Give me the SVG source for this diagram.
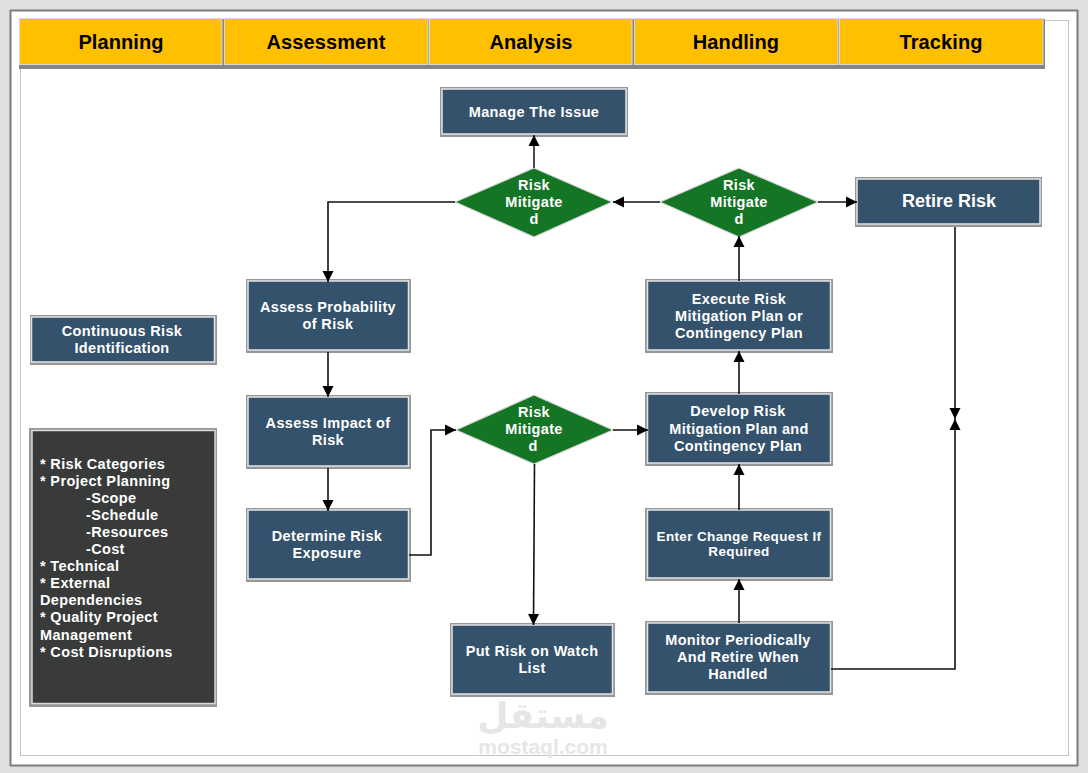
<svg xmlns="http://www.w3.org/2000/svg" width="1088" height="773" viewBox="0 0 1088 773">
<style>
text{font-family:"Liberation Sans",Arial,sans-serif;font-weight:700;text-anchor:middle}
.h{font-size:20px;fill:#000;letter-spacing:.1px}
.hd{fill:#ffc000;stroke:#d8d8d8;stroke-width:1}
.hs{fill:#858585}
.n{fill:#34526b;stroke:#e4e4e4;stroke-width:1.500}
.s{fill:#969696}
.t{font-size:14.500px;fill:#fff;letter-spacing:.35px}
.d{fill:#147524;stroke:#d8d8d8;stroke-width:1.200}
.c{fill:none;stroke:#111;stroke-width:1.600}
.c2{fill:none;stroke:#4a4a52;stroke-width:2}
.l{text-anchor:start}
</style>
<defs>
<marker id="a" markerUnits="userSpaceOnUse" markerWidth="12" markerHeight="12" refX="11" refY="6" orient="auto"><path d="M0 .5L11 6L0 11.500Z" fill="#000"/></marker>
</defs>
<rect width="1088" height="773" fill="#dfdfdd"/>
<rect x="10.500" y="10.500" width="1067" height="755" fill="#fff" stroke="#7d7d7d" stroke-width="2"/>
<rect x="20.500" y="20.500" width="1048" height="735" fill="none" stroke="#c4c4c4" stroke-width="1"/>
<g id="watermark">
<text x="543" y="728" style="font-family:'DejaVu Sans',sans-serif;font-size:36px;fill:#e6e6e6">مستقل</text>
<text x="543" y="754" style="font-size:21px;fill:#e6e6e6;font-weight:700">mostaql.com</text>
</g>
<g id="header">
<g id="h-planning"><rect class="hs" x="19" y="19" width="206" height="50"/><rect class="hd" x="19.500" y="18.500" width="202.500" height="46"/><text class="h" x="121" y="49">Planning</text></g>
<g id="h-assessment"><rect class="hs" x="224" y="19" width="206" height="50"/><rect class="hd" x="224.500" y="18.500" width="203.500" height="46"/><text class="h" x="326" y="49">Assessment</text></g>
<g id="h-analysis"><rect class="hs" x="429" y="19" width="206" height="50"/><rect class="hd" x="429.500" y="18.500" width="202.500" height="46"/><text class="h" x="531" y="49">Analysis</text></g>
<g id="h-handling"><rect class="hs" x="634" y="19" width="206" height="50"/><rect class="hd" x="634.500" y="18.500" width="203.500" height="46"/><text class="h" x="736" y="49">Handling</text></g>
<g id="h-tracking"><rect class="hs" x="839" y="19" width="206" height="50"/><rect class="hd" x="839.500" y="18.500" width="203.500" height="46"/><text class="h" x="941" y="49">Tracking</text></g>
</g>
<g id="manage"><rect class="s" x="440" y="87" width="188" height="50"/><rect class="n" x="442" y="89" width="184" height="45"/><text class="t" x="534" y="117">Manage The Issue</text></g>
<g id="retire"><rect class="s" x="855" y="177" width="187" height="50"/><rect class="n" x="857" y="179" width="183" height="45"/><text x="949" y="207" style="font-size:18px;fill:#fff">Retire Risk</text></g>
<g id="d1"><path class="d" d="M534 168L612 202L534 237L455 202Z"/><text class="t" x="534" y="190">Risk</text><text class="t" x="534" y="207">Mitigate</text><text class="t" x="534" y="224">d</text></g>
<g id="d2"><path class="d" d="M739 168L818 202L739 237L660 202Z"/><text class="t" x="739" y="190">Risk</text><text class="t" x="739" y="207">Mitigate</text><text class="t" x="739" y="224">d</text></g>
<g id="d3"><path class="d" d="M534 395L613 430L534 464L456 430Z"/><text class="t" x="534" y="417">Risk</text><text class="t" x="534" y="434">Mitigate</text><text class="t" x="533" y="451">d</text></g>
<g id="continuous"><rect class="s" x="30" y="315" width="187" height="50"/><rect class="n" x="31.500" y="317" width="183" height="45"/><text class="t" x="122" y="336">Continuous Risk</text><text class="t" x="122" y="353">Identification</text></g>
<g id="probability"><rect class="s" x="246" y="279" width="165" height="74"/><rect class="n" x="248" y="281" width="160.500" height="69"/><text class="t" x="328" y="312">Assess Probability</text><text class="t" x="328" y="329">of Risk</text></g>
<g id="impact"><rect class="s" x="246" y="395" width="165" height="74"/><rect class="n" x="248" y="397" width="160.500" height="69"/><text class="t" x="328" y="428">Assess Impact of</text><text class="t" x="328" y="445">Risk</text></g>
<g id="exposure"><rect class="s" x="246" y="508" width="165" height="74"/><rect class="n" x="248" y="510" width="160.500" height="69"/><text class="t" x="327" y="541">Determine Risk</text><text class="t" x="327" y="558">Exposure</text></g>
<g id="execute"><rect class="s" x="645" y="279" width="188" height="74"/><rect class="n" x="647.500" y="281" width="183" height="69"/><text class="t" x="739" y="304">Execute Risk</text><text class="t" x="739" y="321">Mitigation Plan or</text><text class="t" x="739" y="338">Contingency Plan</text></g>
<g id="develop"><rect class="s" x="645" y="392" width="188" height="74"/><rect class="n" x="647.500" y="394" width="183" height="69"/><text class="t" x="738" y="416">Develop Risk</text><text class="t" x="739" y="434">Mitigation Plan and</text><text class="t" x="738" y="451">Contingency Plan</text></g>
<g id="change"><rect class="s" x="645" y="508" width="188" height="73"/><rect class="n" x="647.500" y="510" width="183" height="68"/><text class="t" x="739" y="541" style="font-size:13.500px">Enter Change Request If</text><text class="t" x="739" y="556" style="font-size:13.500px">Required</text></g>
<g id="monitor"><rect class="s" x="645" y="621" width="188" height="74"/><rect class="n" x="647.500" y="623" width="183" height="69"/><text class="t" x="738" y="645">Monitor Periodically</text><text class="t" x="738" y="662">And Retire When</text><text class="t" x="738" y="679">Handled</text></g>
<g id="watch"><rect class="s" x="450" y="623" width="165" height="74"/><rect class="n" x="452" y="625" width="160.500" height="69"/><text class="t" x="532" y="656">Put Risk on Watch</text><text class="t" x="532" y="673">List</text></g>
<g id="categories"><rect class="s" x="29" y="428" width="188" height="279"/><rect x="32" y="430.500" width="183" height="273" fill="#383b39" stroke="#d8d8d8" stroke-width="1.500"/>
<text class="t l" x="40" y="469">* Risk Categories</text>
<text class="t l" x="40" y="486">* Project Planning</text>
<text class="t l" x="86" y="503">-Scope</text>
<text class="t l" x="86" y="520">-Schedule</text>
<text class="t l" x="86" y="537">-Resources</text>
<text class="t l" x="86" y="554">-Cost</text>
<text class="t l" x="40" y="571">* Technical</text>
<text class="t l" x="40" y="588">* External</text>
<text class="t l" x="40" y="605">Dependencies</text>
<text class="t l" x="40" y="622">* Quality Project</text>
<text class="t l" x="40" y="640">Management</text>
<text class="t l" x="40" y="657">* Cost Disruptions</text>
</g>
<g id="connectors">
<path class="c2" d="M534 168V135" marker-end="url(#a)"/>
<path class="c2" d="M660 202H613" marker-end="url(#a)"/>
<path class="c" d="M455 202H328V282" marker-end="url(#a)"/>
<path class="c" d="M818 202H857" marker-end="url(#a)"/>
<path class="c" d="M739 281V236" marker-end="url(#a)"/>
<path class="c" d="M739 394V351" marker-end="url(#a)"/>
<path class="c" d="M739 510V464" marker-end="url(#a)"/>
<path class="c" d="M739 623V579" marker-end="url(#a)"/>
<path class="c" d="M328 352V397" marker-end="url(#a)"/>
<path class="c" d="M328 468V511" marker-end="url(#a)"/>
<path class="c" d="M409 555H431V430H456" marker-end="url(#a)"/>
<path class="c" d="M613 430H648" marker-end="url(#a)"/>
<path class="c" d="M534.500 464L533.500 625" marker-end="url(#a)"/>
<path class="c" d="M955 227V419" marker-end="url(#a)"/>
<path class="c" d="M831 669H955V419" marker-end="url(#a)"/>
</g>
</svg>
